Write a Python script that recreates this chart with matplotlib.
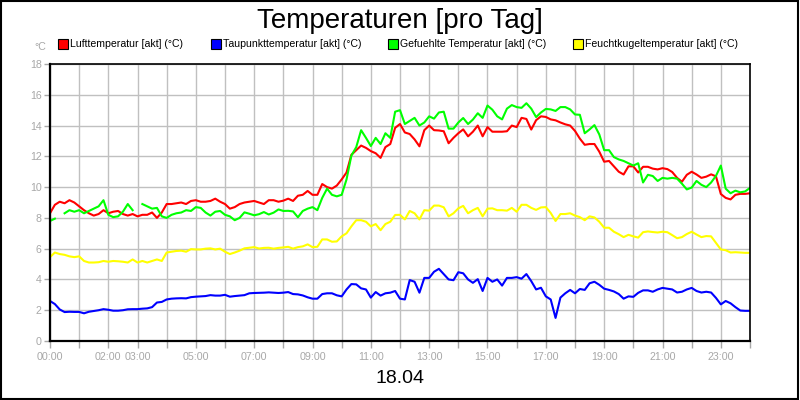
import numpy as np
import matplotlib
matplotlib.use('Agg')
import matplotlib.pyplot as plt
from matplotlib.patches import Rectangle

plt.rcParams['font.family'] = ['Liberation Sans', 'DejaVu Sans']

# 10-Minuten-Werte 00:00 .. 24:00
hours = np.arange(145) / 6.0
nan = np.nan

luft = [8.3, 8.85, 9.05, 8.95, 9.15, 9.0, 8.75, 8.5, 8.3, 8.15,
        8.25, 8.5, 8.3, 8.4, 8.45, 8.25, 8.15, 8.25, 8.1, 8.2,
        8.2, 8.35, 8.0, 8.35, 8.9, 8.9, 8.95, 9.0, 8.9, 9.1,
        9.15, 9.05, 9.05, 9.1, 9.25, 9.05, 8.9, 8.6, 8.7, 8.9,
        9.0, 9.05, 9.1, 9.0, 8.9, 9.15, 9.15, 9.05, 9.12, 9.25,
        9.1, 9.44, 9.5, 9.75, 9.5, 9.5, 10.2, 10.0, 9.9, 10.1,
        10.5, 10.95, 12.1, 12.4, 12.7, 12.55, 12.34, 12.2, 11.9, 12.6,
        12.8, 13.85, 14.1, 13.55, 13.45, 13.1, 12.65, 13.7, 14.0, 13.7,
        13.68, 13.63, 12.85, 13.2, 13.5, 13.75, 13.3, 13.6, 14.0, 13.3,
        13.9, 13.6, 13.6, 13.6, 13.63, 14.0, 13.9, 14.5, 14.43, 13.74,
        14.35, 14.6, 14.56, 14.4, 14.34, 14.2, 14.08, 14.0, 13.65, 13.15,
        12.75, 12.8, 12.8, 12.3, 11.65, 11.7, 11.35, 11.0, 10.82, 11.35,
        11.35, 10.95, 11.32, 11.32, 11.2, 11.15, 11.23, 11.17, 10.98, 10.6,
        10.35, 10.8, 11.0, 10.82, 10.6, 10.68, 10.83, 10.7, 9.55, 9.3,
        9.2, 9.5, 9.56, 9.56, 9.6]

taupunkt = [2.6, 2.4, 2.05, 1.88, 1.9, 1.89, 1.89, 1.8, 1.9, 1.95,
            2.0, 2.07, 2.03, 1.97, 1.97, 2.0, 2.06, 2.07, 2.07, 2.1,
            2.12, 2.2, 2.5, 2.54, 2.7, 2.75, 2.77, 2.78, 2.77, 2.85,
            2.88, 2.9, 2.92, 2.98, 2.95, 2.95, 3.0, 2.88, 2.92, 2.95,
            2.98, 3.1, 3.12, 3.13, 3.14, 3.16, 3.14, 3.12, 3.14, 3.18,
            3.05, 3.03, 2.96, 2.84, 2.75, 2.75, 3.05, 3.1, 3.1, 2.97,
            2.9, 3.35, 3.7, 3.68, 3.42, 3.35, 2.82, 3.18, 2.95, 3.1,
            3.14, 3.25, 2.75, 2.7, 3.96, 3.85, 3.14, 4.1, 4.1, 4.5,
            4.69, 4.35, 4.0, 3.95, 4.47, 4.4, 4.0, 3.78, 4.02, 3.25,
            4.1, 3.85, 4.0, 3.6, 4.1, 4.1, 4.15, 4.05, 4.35, 3.89,
            3.35, 3.46, 2.9, 2.7, 1.5, 2.82, 3.1, 3.32, 3.1, 3.38,
            3.32, 3.75, 3.85, 3.65, 3.4, 3.32, 3.22, 3.05, 2.75, 2.9,
            2.87, 3.13, 3.29, 3.29, 3.2, 3.35, 3.45, 3.4, 3.35, 3.15,
            3.2, 3.35, 3.45, 3.25, 3.15, 3.2, 3.15, 2.8, 2.38, 2.6,
            2.45, 2.2, 1.98, 1.96, 1.96]

gefuehlt = [7.8, 7.95, nan, 8.3, 8.5, 8.4, 8.5, 8.3, 8.45, 8.6,
            8.75, 9.15, 8.2, 8.05, 8.1, 8.4, 8.9, 8.5, nan, 8.9,
            8.75, 8.6, 8.65, 8.1, 8.0, 8.2, 8.3, 8.35, 8.5, 8.45,
            8.7, 8.65, 8.35, 8.15, 8.4, 8.45, 8.2, 8.1, 7.85, 8.0,
            8.36, 8.27, 8.17, 8.24, 8.38, 8.22, 8.34, 8.55, 8.45, 8.46,
            8.42, 8.04, 8.45, 8.6, 8.7, 8.5, 9.3, 9.9, 9.5, 9.4,
            9.5, 10.5, 12.05, 12.6, 13.7, 13.2, 12.67, 13.2, 12.8, 13.5,
            13.2, 14.9, 15.0, 14.1, 14.3, 14.5, 14.0, 14.2, 14.6, 14.45,
            14.85, 14.9, 13.8, 13.8, 14.2, 14.49, 14.1, 14.39, 14.8, 14.5,
            15.3, 15.03, 14.6, 14.4, 15.1, 15.33, 15.2, 15.15, 15.45, 15.1,
            14.55, 14.85, 15.08, 15.05, 14.95, 15.2, 15.2, 15.05, 14.72, 14.7,
            13.5, 13.75, 14.03, 13.42, 12.4, 12.4, 11.95, 11.8, 11.7, 11.55,
            11.4, 11.55, 10.3, 10.8, 10.72, 10.4, 10.6, 10.55, 10.6, 10.55,
            10.22, 9.85, 9.97, 10.4, 10.15, 10.0, 10.3, 10.73, 11.4, 9.9,
            9.6, 9.77, 9.66, 9.72, 9.95]

feuchtkugel = [5.45, 5.75, 5.65, 5.6, 5.5, 5.45, 5.5, 5.2, 5.1, 5.1,
               5.12, 5.2, 5.15, 5.2, 5.18, 5.15, 5.1, 5.3, 5.1, 5.2,
               5.1, 5.2, 5.3, 5.2, 5.75, 5.8, 5.85, 5.87, 5.8, 5.97,
               5.95, 5.95, 6.0, 6.02, 5.95, 6.0, 5.8, 5.65, 5.75, 5.87,
               6.02, 6.06, 6.1, 6.01, 6.05, 6.06, 6.0, 6.05, 6.08, 6.12,
               6.0, 6.1, 6.15, 6.28, 6.1, 6.12, 6.6, 6.6, 6.45, 6.47,
               6.8, 7.0, 7.45, 7.85, 7.85, 7.75, 7.45, 7.6, 7.2, 7.6,
               7.75, 8.19, 8.2, 7.9, 8.45, 8.3, 7.9, 8.5, 8.47, 8.8,
               8.8, 8.69, 8.1, 8.3, 8.62, 8.78, 8.3, 8.5, 8.65, 8.1,
               8.6, 8.62, 8.5, 8.5, 8.47, 8.65, 8.4, 8.85, 8.85, 8.65,
               8.52, 8.68, 8.7, 8.32, 7.8, 8.25, 8.25, 8.3, 8.15, 8.05,
               7.85, 8.1, 8.03, 7.75, 7.36, 7.36, 7.1, 6.94, 6.75, 6.9,
               6.8, 6.72, 7.07, 7.12, 7.08, 7.05, 7.1, 7.07, 6.88, 6.68,
               6.75, 6.95, 7.1, 6.92, 6.75, 6.82, 6.8, 6.38, 5.95, 5.9,
               5.75, 5.77, 5.75, 5.73, 5.73]

serien = [luft, taupunkt, gefuehlt, feuchtkugel]
namen = ['Lufttemperatur [akt] (°C)', 'Taupunkttemperatur [akt] (°C)',
         'Gefuehlte Temperatur [akt] (°C)', 'Feuchtkugeltemperatur [akt] (°C)']
farben = ['#ff0000', '#0000ff', '#00ff00', '#ffff00']

x_ticks = list(range(25))
x_labels = ['00:00', '', '02:00', '03:00', '', '05:00', '', '07:00', '', '09:00', '',
            '11:00', '', '13:00', '', '15:00', '', '17:00', '', '19:00', '', '21:00',
            '', '23:00', '']
y_ticks = list(range(0, 19, 2))

grau = '#a8a8a8'

fig = plt.figure(figsize=(8, 4), dpi=100)
ax = fig.add_axes([0.0625, 0.1475, 0.875, 0.6925])

for werte, farbe in zip(serien, farben):
    ax.plot(hours, werte, color=farbe, lw=1.5, solid_joinstyle='round')

ax.set_xlim(0, 24)
ax.set_ylim(0, 18)
ax.set_xticks(x_ticks)
ax.set_xticklabels(x_labels)
ax.set_yticks(y_ticks)
ax.grid(True, color='#c0c0c0', lw=1)
ax.set_axisbelow(True)
ax.tick_params(axis='both', colors=grau, labelsize=7.7, width=1)
ax.tick_params(axis='x', length=5, pad=3)
ax.tick_params(axis='y', length=4, pad=2)
for s in ax.spines.values():
    s.set_color('black')
    s.set_linewidth(1.2)
ax.spines['left'].set_linewidth(1.6)
ax.spines['bottom'].set_linewidth(1.6)

fig.text(0.5, 0.948, 'Temperaturen [pro Tag]', ha='center', va='center', fontsize=20)
fig.text(0.5, 0.053, '18.04', ha='center', va='center', fontsize=14)
fig.text(0.05, 0.882, '°C', ha='center', va='center', fontsize=7.7, color=grau)

# Legende
leg_x = [58, 211, 388, 573]
for lx, name, farbe in zip(leg_x, namen, farben):
    fig.patches.append(Rectangle((lx / 800, 1 - 49 / 400), 10 / 800, 10 / 400,
                                 transform=fig.transFigure, facecolor=farbe,
                                 edgecolor='black', lw=0.8))
    fig.text((lx + 12) / 800, 1 - 44 / 400, name, ha='left', va='center', fontsize=7.6)

fig.patches.append(Rectangle((0.001, 0.002), 0.997, 0.996, transform=fig.transFigure,
                             fill=False, edgecolor='black', lw=1.5))

plt.savefig('out.png', dpi=100)
